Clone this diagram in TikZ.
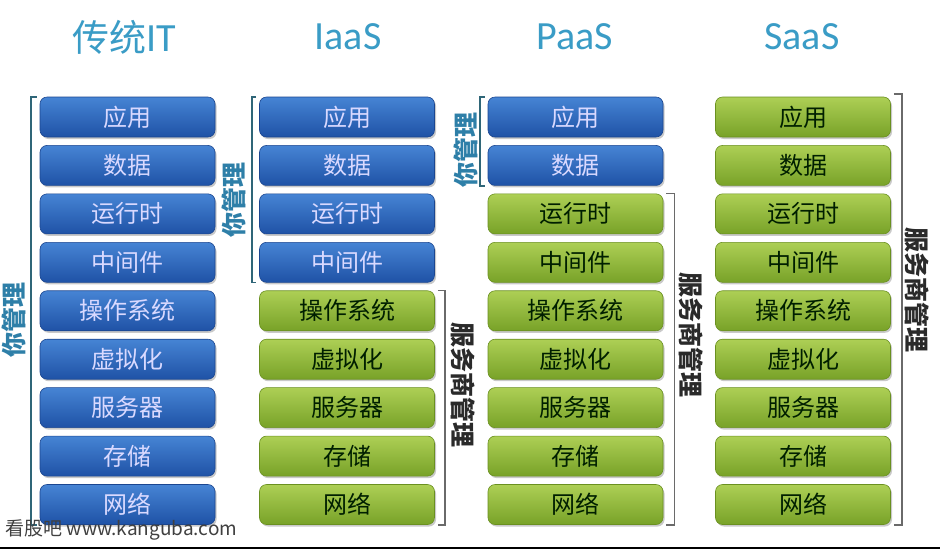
\documentclass[tikz,border=0pt]{standalone}
\usepackage{fontspec}
\setmainfont{Noto Sans CJK SC}
\newfontfamily\cjk{Noto Sans CJK SC}
\newfontfamily\titlefont{Carlito}
\usetikzlibrary{shadows}
\definecolor{bluetop}{HTML}{4684D4}
\definecolor{bluebot}{HTML}{1F52A6}
\definecolor{blueedge}{HTML}{1B4690}
\definecolor{greentop}{HTML}{ADCF55}
\definecolor{greenbot}{HTML}{78A228}
\definecolor{greenedge}{HTML}{6A9020}
\definecolor{titlecol}{HTML}{3A9CC6}
\definecolor{youcol}{HTML}{2E7FA8}
\definecolor{brcol}{HTML}{2F6678}
\definecolor{provcol}{HTML}{2A2A2A}
\definecolor{provbr}{HTML}{6A6A6A}
\tikzset{
  layer/.style={rounded corners=7pt, minimum width=175pt, minimum height=40pt,
    inner sep=0pt, font=\cjk\fontsize{24}{26}\selectfont,
    drop shadow={shadow xshift=1.5pt, shadow yshift=-2pt, opacity=0.35, fill=black!60}},
  bluebox/.style={layer, top color=bluetop, bottom color=bluebot, draw=blueedge, line width=0.6pt, text=white!85!blue},
  greenbox/.style={layer, top color=greentop, bottom color=greenbot, draw=greenedge, line width=0.6pt, text=black!80!green!60!black},
  coltitle/.style={font=\titlefont\fontsize{40}{42}\selectfont, text=titlecol},
  youlbl/.style={font=\cjk\bfseries\fontsize{25}{26}\selectfont, text=youcol, rotate=90},
  provlbl/.style={font=\cjk\bfseries\fontsize{25}{26}\selectfont, text=provcol, rotate=-90},
  youbr/.style={draw=brcol, line width=1.6pt},
  provbr/.style={draw=provbr, line width=1.6pt}
}
\begin{document}
\begin{tikzpicture}[x=1pt,y=-1pt]
\useasboundingbox (0,0) rectangle (940,550);
\fill[white] (0,0) rectangle (940,550);

% titles
\node[coltitle] (t1) at (124,37) {{\cjk\fontsize{37}{39}\selectfont 传统}IT};
\node[coltitle] (t2) at (348,37) {IaaS};
\node[coltitle] (t3) at (575,37) {PaaS};
\node[coltitle] (t4) at (802,37) {SaaS};

% rows
\foreach \lbl [count=\i from 0] in {应用,数据,运行时,中间件,操作系统,虚拟化,服务器,存储,网络}{
  \node[bluebox] (a\i) at (127.5,{117+48.44*\i}) {\lbl};
}
\foreach \lbl [count=\i from 0] in {应用,数据,运行时,中间件}{
  \node[bluebox] (b\i) at (347,{117+48.44*\i}) {\lbl};
}
\foreach \lbl [count=\i from 4] in {操作系统,虚拟化,服务器,存储,网络}{
  \node[greenbox] (b\i) at (347,{117+48.44*\i}) {\lbl};
}
\foreach \lbl [count=\i from 0] in {应用,数据}{
  \node[bluebox] (c\i) at (575.5,{117+48.44*\i}) {\lbl};
}
\foreach \lbl [count=\i from 2] in {运行时,中间件,操作系统,虚拟化,服务器,存储,网络}{
  \node[greenbox] (c\i) at (575.5,{117+48.44*\i}) {\lbl};
}
\foreach \lbl [count=\i from 0] in {应用,数据,运行时,中间件,操作系统,虚拟化,服务器,存储,网络}{
  \node[greenbox] (d\i) at (803,{117+48.44*\i}) {\lbl};
}

% brackets: you manage
\draw[youbr] ([xshift=-3pt]a0.north west) -- ++(-6,0) |- ([xshift=-3pt]a8.south west);
\node[youlbl] (l1) at (14,320) {你管理};
\draw[youbr] ([xshift=-3pt]b0.north west) -- ++(-4,0) |- ([xshift=-3pt]b3.south west);
\node[youlbl] (l2) at (234,200) {你管理};
\draw[youbr] ([xshift=-3pt]c0.north west) -- ++(-5,0) |- ([xshift=-3pt]c1.south west);
\node[youlbl] (l3) at (466,150) {你管理};

% brackets: provider manages
\draw[provbr] ([xshift=3pt]b4.north east) -- ++(7,0) |- ([xshift=3pt]b8.south east);
\node[provlbl] (r1) at (463,385) {服务商管理};
\draw[provbr] ([xshift=3pt]c2.north east) -- ++(8,0) |- ([xshift=3pt]c8.south east);
\node[provlbl] (r2) at (691,335) {服务商管理};
\draw[provbr] ([xshift=3pt,yshift=3pt]d0.north east) -- ++(8,0) |- ([xshift=3pt]d8.south east);
\node[provlbl] (r3) at (917,290) {服务商管理};

% footer
\node[anchor=west, font=\cjk\fontsize{19}{20}\selectfont, text=black!75] (ft) at (2,530) {看股吧 www.kanguba.com};
\draw[black, line width=2pt] (0,548) -- (940,548);
\end{tikzpicture}
\end{document}
